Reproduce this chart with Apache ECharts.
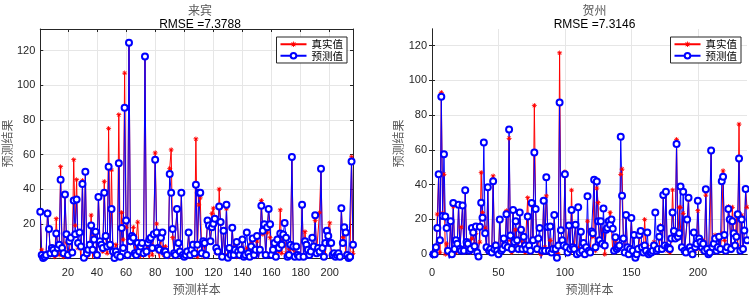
<!DOCTYPE html>
<html>
<head>
<meta charset="utf-8">
<script src="https://cdn.jsdelivr.net/npm/echarts@6/dist/echarts.min.js"></script>
<style>
  html, body { margin: 0; padding: 0; background: #fff; }
  #main { width: 749px; height: 300px; }
</style>
</head>
<body>
<div id="main"></div>
<script>
// 来宾 (left)
var lbReal = [27,5,1,1,2,27,17,2,5,6, 1,23,5,2,53,6,1,37,9,1, 4,13,3,57,19,45.5,6,9,0,45, 0,50,1,2,8,25,0,13,16,1,
  36,10,6,4,44.5,12,3,75,8,51, 2,1,8,1,83,1,26.5,11,107,18, 1,124,9,13,18,2,3,21,2,0, 9,0,116.5,5,6,0,8,2,14,61,
  20,4,0,14,6,2,7,4,1,52, 62.7,12,2,1,28,9,3,38,2,1, 3,1,15,1,4,9,2,69,1,31, 35,2,10,1,2,20,18,10,26,29,
  23,3,5,40,20,1,16,0,28.7,2, 6,1,18,3,7,1,3,1,2,11, 3,0,6,4,2,9,4,1,3,10, 0,6,33.5,14,19.7,3,15,28.5,12,3,
  2,8,1,11,4,28,3,12,14,3, 1,6,1,58.5,5,2,3,1,0,2, 31,0,15.5,5,6,3,5,3,8,22, 4,5,26.5,51.8,5,0,2,16,15,20.5,
  2,1,0,1,2,3,0,28,12,16, 3,1,0,1,58.6,3];
var lbPred = [27,2,0.3,1,2,26,17,3,6,5, 3,14.5,6,8,45.5,6,3,37,14,2, 10,12,3.5,33.5,14,34,9,15,7,43, 0.5,50,3,5,8,19,5,11,15.5,2,
  35.5,10,8,6,38,13,7,53,8,28.5, 4,0.3,4,2,55,1,17.6,6,87,22, 2,124.5,10,13,12,3,2,9,4,7, 9,3,116.5,4,9,11,12,6,14,57,
  15,6,5,12,15,4,4,2,0,48.7, 38,17,3,2,28.5,9,4,38,2,1, 2,4,15,2,5,8,3,42.6,8,38, 38,3,10,9,2,22,19,10,18,20,
  23,6,4,30,21,1,16,0,31,0.5, 6,2,17.8,2,5,9.5,4,2,5,11, 1,2,15,3,1,7,11.5,2,5,13, 0,5,30.5,16,19.7,2,18,28.5,19.7,2,
  5,9,1,11,6,14.5,8,13.8,20.5,12, 1,2,8,58.5,7,1,7,2,1,0, 31,1,10,8,5,2,4,12,7,25, 3,6,4,51.8,6,1,9,16,13,9,
  9,2,3,1,2,3,1,29,9,18, 15,2,0.3,1,56,8];

// 贺州 (right)
var hzReal = [0,1,2,23,46,1,93,23.5,46,0, 6,2,0,19,1,27.5,3,1,3,28.5, 2,15.5,27.5,1,36.8,7,5,2,1,9, 13,6,12,2,1,7,47,24,21,15,
  2,38.5,1,2,3,45,4,6,3,1, 20,3,2,9,4,25,5,66.7,8,1, 25.4,3,14,6,2,24,8,3,6,1, 2,32.5,4,1,28,9,85.5,26,2,9,
  1,0,3,30.8,4,33.5,16,3,8,2, 4,22.5,2,1,0,115.8,14,4,6,47.4, 3,2,16,1,36.8,5,2,17,1,3, 2,13,0,6,1,2,19,3,1,13,
  10,42,2,38,29.6,6,19,5,14,0, 14,18,16,24,15,2,1,8,2,6, 3,46,49,9,2,22,2,1,4,20.8, 1,3,1,2,4,10,2,5,2,20,
  3,5,1,2,0,3,7,4,1,2, 4,16.5,3,33,6,36,2,3,1,8, 37,12,10,66,9,27,27,4,23.5,1, 2,20,31,3,1,0,4,2,5,25,
  3,6,2,8,1,34,2,1,2,59.7, 3,7,11,1,3,9,2,12,48,8, 1,3,27.5,19,2,27,13,4,22,5, 74.8,1,22.5,4,13,37.5,27];
var hzPred = [0,0,4,15,46,8,90.6,22,57.5,21.7, 15,2,-2.7,19,0,29.4,3,8,6,28.5, 3,2,28,2,36.8,7,6,2,3,15, 12.5,4.5,16,1,-1.3,15.8,29.6,21,64.3,12,
  4,38.5,2,3,1,42,3,5,2,0, 20,2,3,9,5,23,4,71.7,10.7,3, 25.4,7,19,8,3,24,14,3,10,5, 3,21.7,5,2,29.4,8,58.5,26,3,9,
  15,-2.7,2,30.8,2,44.3,15.6,2,16,1, 3,22.5,3,-2,5,87.3,13.8,8,5,46, 4,1,16.5,3,25.4,4,3,17,0,27, 1,12.9,2,6.4,0,4,33.3,2,1,13,
  12,42.8,4,41.9,19,8,19,6,26.3,5, 14,15,19,17,20,14.7,2,9.7,3,4, 5,67.6,33.6,9,1,22.6,4,0,3,20.8, 2,11,-2,0,3,11,13.4,4,1,5,
  2,12.5,0,1,1,2,5,24,2,3, 10,15,3,34,5,36,4,3.7,3,9, 24,13.4,9,63.4,10,12,39,4,36,2, 1,20,32.5,4,2,0,12.5,4,6,30.7,
  9,7,4,6,2,37.3,3,0,1,59.7, 4,6,9,2,4,10,3,42,44.6,11, 2,4,26,20,3,19,12,5,10,23, 55,2,20,3,13.6,37.5,8];

var titles = ['来宾', '贺州'];
var rmse = ['RMSE =7.3788', 'RMSE =7.3146'];
var names = ['真实值', '预测值'];
var lbXTicks = [20, 40, 60, 80, 100, 120, 140, 160, 180, 200];
var hzXTicks = [0, 50, 100, 150, 200];
var lbYTicks = [20, 40, 60, 80, 100, 120];
var hzYTicks = [0, 20, 40, 60, 80, 100, 120];

function toPairs(arr) {
  return arr.map(function (v, i) { return [i + 1, v]; });
}

var star = 'path://M-0.15,-1H0.15V1H-0.15Z M-1,-0.15H1V0.15H-1Z M-0.8,-0.6L-0.6,-0.8L0.8,0.6L0.6,0.8Z M0.6,-0.8L0.8,-0.6L-0.6,0.8L-0.8,0.6Z';
var axisColor = '#262626';
var labelFont = 'Liberation Sans, Arial, sans-serif';
var cjkFont = 'Noto Sans CJK SC';

var grids = [
  { left: 37, top: 29, width: 316, height: 239 },
  { left: 432, top: 29, width: 315, height: 239 }
];
var xRanges = [[1, 216], [0, 237]];
var yRanges = [[0.3, 132.4], [-2.2, 129.6]];
var xTicks = [lbXTicks, hzXTicks];
var yTicks = [lbYTicks, hzYTicks];

var xAxes = [], yAxes = [], series = [], titleList = [], legends = [];
for (var g = 0; g < 2; g++) {
  var gr = grids[g];
  var cx = gr.left + gr.width / 2;
  xAxes.push({
    type: 'value', gridIndex: g, min: xRanges[g][0], max: xRanges[g][1],
    name: '预测样本', nameLocation: 'middle', nameGap: 25,
    nameTextStyle: { fontFamily: cjkFont, fontSize: 12, color: '#595959' },
    axisLine: { lineStyle: { color: axisColor, width: 1 } },
    axisTick: { inside: true, length: 3, customValues: xTicks[g], lineStyle: { color: axisColor } },
    axisLabel: { customValues: xTicks[g], color: axisColor, fontSize: 11, fontFamily: labelFont, margin: 9 },
    splitLine: { show: true, lineStyle: { color: '#e6e6e6', width: 1 } }
  });
  xAxes.push({
    type: 'value', gridIndex: g, position: 'top', min: xRanges[g][0], max: xRanges[g][1],
    axisLine: { lineStyle: { color: axisColor, width: 1 } },
    axisTick: { inside: true, length: 3, customValues: xTicks[g], lineStyle: { color: axisColor } },
    axisLabel: { show: false }, splitLine: { show: false }
  });
  yAxes.push({
    type: 'value', gridIndex: g, min: yRanges[g][0], max: yRanges[g][1],
    name: '预测结果', nameLocation: 'middle', nameGap: 24,
    nameTextStyle: { fontFamily: cjkFont, fontSize: 12, color: '#595959' },
    axisLine: { show: true, lineStyle: { color: axisColor, width: 1 } },
    axisTick: { show: true, inside: true, length: 3, customValues: yTicks[g], lineStyle: { color: axisColor } },
    axisLabel: { customValues: yTicks[g], color: axisColor, fontSize: 11, fontFamily: labelFont, margin: 5 },
    splitLine: { show: true, lineStyle: { color: '#e6e6e6', width: 1 } }
  });
  yAxes.push({
    type: 'value', gridIndex: g, position: 'right', min: yRanges[g][0], max: yRanges[g][1],
    axisLine: { show: true, lineStyle: { color: axisColor, width: 1 } },
    axisTick: { show: true, inside: true, length: 3, customValues: yTicks[g], lineStyle: { color: axisColor } },
    axisLabel: { show: false }, splitLine: { show: false }
  });
  titleList.push({
    text: titles[g], left: cx, top: -1, textAlign: 'center',
    textStyle: { fontFamily: cjkFont, fontSize: 12, fontWeight: 'normal', color: '#595959' }
  });
  titleList.push({
    text: rmse[g], left: cx, top: 14, textAlign: 'center',
    textStyle: { fontFamily: labelFont, fontSize: 12, fontWeight: 'normal', color: '#000' }
  });
  legends.push({
    data: names, orient: 'vertical',
    right: g === 0 ? 749 - 347 : 749 - 741, top: 37,
    itemWidth: 26, itemHeight: 7, itemGap: 1, padding: [2, 4, 2, 3],
    borderColor: axisColor, borderWidth: 1, borderRadius: 0, backgroundColor: '#fff',
    textStyle: { fontFamily: cjkFont, fontSize: 10.5, color: '#000' }
  });
}

var realData = [lbReal, hzReal];
var predData = [lbPred, hzPred];
for (var k = 0; k < 2; k++) {
  series.push({
    name: names[0], type: 'line', xAxisIndex: k * 2, yAxisIndex: k * 2,
    data: toPairs(realData[k]), symbol: star, symbolSize: 5, symbolKeepAspect: true,
    lineStyle: { color: '#ff0000', width: 1 },
    itemStyle: { color: '#ff0000' }, animation: false
  });
  series.push({
    name: names[1], type: 'line', xAxisIndex: k * 2, yAxisIndex: k * 2,
    data: toPairs(predData[k]), symbol: 'emptyCircle', symbolSize: 6,
    lineStyle: { color: '#0000ff', width: 1 },
    itemStyle: { color: '#0000ff', borderColor: '#0000ff', borderWidth: 1 }, animation: false
  });
}

var chart = echarts.init(document.getElementById('main'));
chart.setOption({
  backgroundColor: '#fff',
  animation: false,
  title: titleList,
  legend: legends,
  grid: grids,
  xAxis: xAxes,
  yAxis: yAxes,
  series: series
});
</script>
</body>
</html>
